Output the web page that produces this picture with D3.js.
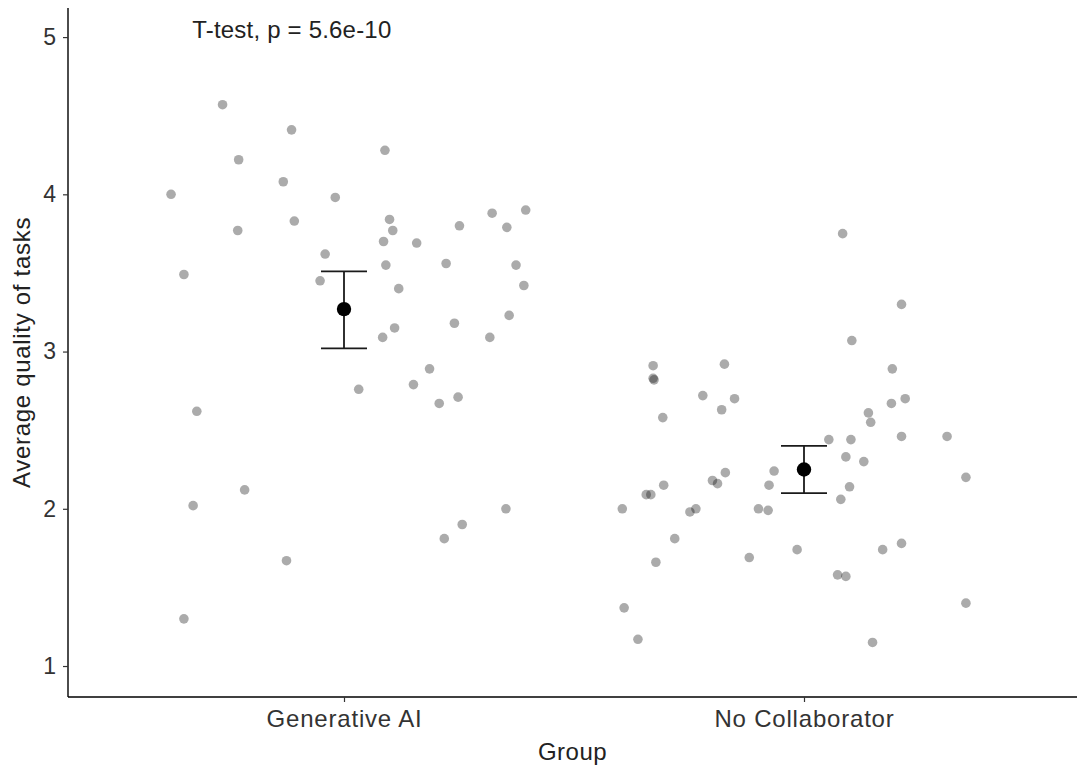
<!DOCTYPE html>
<html>
<head>
<meta charset="utf-8">
<script src="https://cdn.jsdelivr.net/npm/d3@7"></script>
<style>
    body { margin: 0; background: #fff; }
    svg { display: block; font-family: "Liberation Sans", Arial, Helvetica, sans-serif; }
</style>
</head>
<body>
<svg id="vis" width="1077" height="770"></svg>
<script>
// categories (ggplot style positions 1 and 2)
var groups = ["Generative AI", "No Collaborator"];

// jitter offsets (x, in category units) and quality scores
var aiJitter = [-0.264, -0.114, 0.089, -0.229, -0.132, -0.376, -0.019, 0.395, 0.322, 0.099,
    -0.108, 0.251, 0.354, 0.106, -0.231, 0.086, 0.158, -0.041, 0.091, 0.222,
    0.374, -0.348, -0.052, 0.391, 0.119, 0.359, 0.240, 0.110, 0.084, 0.317,
    0.186, 0.032, 0.151, 0.207, 0.248, -0.320, -0.216, -0.328, 0.352, 0.257,
    0.218, -0.125, -0.348];
var aiQuality = [4.57, 4.41, 4.28, 4.22, 4.08, 4.00, 3.98, 3.90, 3.88, 3.84,
    3.83, 3.80, 3.79, 3.77, 3.77, 3.70, 3.69, 3.62, 3.55, 3.56,
    3.55, 3.49, 3.45, 3.42, 3.40, 3.23, 3.18, 3.15, 3.09, 3.09,
    2.89, 2.76, 2.79, 2.67, 2.71, 2.62, 2.12, 2.02, 2.00, 1.90,
    1.81, 1.67, 1.30];

var ncJitter = [0.084, 0.212, 0.104, -0.328, -0.328, -0.326, -0.173, 0.192, -0.220, -0.151,
    0.220, 0.190, -0.179, -0.307, 0.140, 0.145, 0.054, 0.102, 0.212, 0.311,
    0.091, 0.130, -0.065, -0.171, 0.352, -0.199, -0.188, -0.076, -0.305, 0.099,
    -0.343, -0.333, 0.080, -0.235, -0.248, -0.099, -0.078, -0.395, -0.281, 0.212,
    0.171, -0.015, -0.322, -0.119, 0.073, 0.091, -0.391, 0.352, -0.361, 0.149];
var ncQuality = [3.75, 3.30, 3.07, 2.91, 2.83, 2.82, 2.92, 2.89, 2.72, 2.70,
    2.70, 2.67, 2.63, 2.58, 2.61, 2.55, 2.44, 2.44, 2.46, 2.46,
    2.33, 2.30, 2.24, 2.23, 2.20, 2.18, 2.16, 2.15, 2.15, 2.14,
    2.09, 2.09, 2.06, 2.00, 1.98, 2.00, 1.99, 2.00, 1.81, 1.78,
    1.74, 1.74, 1.66, 1.69, 1.58, 1.57, 1.37, 1.40, 1.17, 1.15];

// group means with error bar limits
var means = [3.27, 2.25];
var lower = [3.02, 2.10];
var upper = [3.51, 2.40];

var yTicks = [1, 2, 3, 4, 5];
var annotation = "T-test, p = 5.6e-10";

function draw() {
    var svg = d3.select("#vis");
    var left = 68, right = 1077, top = 8, bottom = 697;

    var x = d3.scaleLinear().domain([0.4, 2.6]).range([left, 1080]);
    var y = d3.scaleLinear().domain([0.803, 5.185]).range([bottom, top]);

    var points = [];
    aiQuality.forEach(function(v, i) { points.push({ x: 1 + aiJitter[i], y: v }); });
    ncQuality.forEach(function(v, i) { points.push({ x: 2 + ncJitter[i], y: v }); });

    svg.append("g").selectAll("circle")
        .data(points)
        .enter().append("circle")
        .attr("cx", function(d) { return x(d.x); })
        .attr("cy", function(d) { return y(d.y); })
        .attr("r", 4.8)
        .attr("fill", "#000")
        .attr("fill-opacity", 0.33);

    // error bars
    var bars = svg.append("g").selectAll("g")
        .data(means.map(function(m, i) { return { x: i + 1, m: m, lo: lower[i], hi: upper[i] }; }))
        .enter().append("g")
        .attr("stroke", "#1a1a1a")
        .attr("stroke-width", 1.8);
    bars.append("line")
        .attr("x1", function(d) { return x(d.x); })
        .attr("x2", function(d) { return x(d.x); })
        .attr("y1", function(d) { return y(d.lo); })
        .attr("y2", function(d) { return y(d.hi); });
    bars.append("line")
        .attr("x1", function(d) { return x(d.x - 0.05); })
        .attr("x2", function(d) { return x(d.x + 0.05); })
        .attr("y1", function(d) { return y(d.hi); })
        .attr("y2", function(d) { return y(d.hi); });
    bars.append("line")
        .attr("x1", function(d) { return x(d.x - 0.05); })
        .attr("x2", function(d) { return x(d.x + 0.05); })
        .attr("y1", function(d) { return y(d.lo); })
        .attr("y2", function(d) { return y(d.lo); });
    bars.append("circle")
        .attr("cx", function(d) { return x(d.x); })
        .attr("cy", function(d) { return y(d.m); })
        .attr("r", 7.2)
        .attr("fill", "#000")
        .attr("stroke", "none");

    // axes
    var yAxis = d3.axisLeft(y).tickValues(yTicks).tickSize(5).tickSizeOuter(0).tickPadding(7)
        .tickFormat(d3.format("d"));
    var gy = svg.append("g").attr("transform", "translate(" + left + ",0)").call(yAxis);
    gy.select(".domain").attr("d", "M0," + top + "V" + bottom);

    var xAxis = d3.axisBottom(x).tickValues([1, 2]).tickSize(5).tickSizeOuter(0).tickPadding(8)
        .tickFormat(function(d) { return groups[d - 1]; });
    var gx = svg.append("g").attr("transform", "translate(0," + bottom + ")").call(xAxis);
    gx.select(".domain").attr("d", "M" + left + ",0H" + right);

    svg.selectAll(".domain").attr("stroke", "#000").attr("stroke-width", 1.4);
    svg.selectAll(".tick line").attr("stroke", "#333").attr("stroke-width", 1.2);
    gy.selectAll(".tick text").attr("font-size", 23).attr("fill", "#333").attr("font-family", null);
    gx.selectAll(".tick text").attr("font-size", 24).attr("letter-spacing", 0.8)
        .attr("fill", "#333").attr("font-family", null);

    // axis titles
    svg.append("text")
        .attr("x", (left + right) / 2)
        .attr("y", 760)
        .attr("text-anchor", "middle")
        .attr("font-size", 24)
        .attr("letter-spacing", 0.5)
        .attr("fill", "#222")
        .text("Group");
    svg.append("text")
        .attr("transform", "translate(30," + (top + bottom) / 2 + ") rotate(-90)")
        .attr("text-anchor", "middle")
        .attr("font-size", 24)
        .attr("letter-spacing", 0.7)
        .attr("fill", "#222")
        .text("Average quality of tasks");

    svg.append("text")
        .attr("x", x(0.67))
        .attr("y", y(5) + 1)
        .attr("font-size", 24)
        .attr("letter-spacing", 0.2)
        .attr("fill", "#222")
        .text(annotation);
}
window.onload = draw;
</script>
</body>
</html>
